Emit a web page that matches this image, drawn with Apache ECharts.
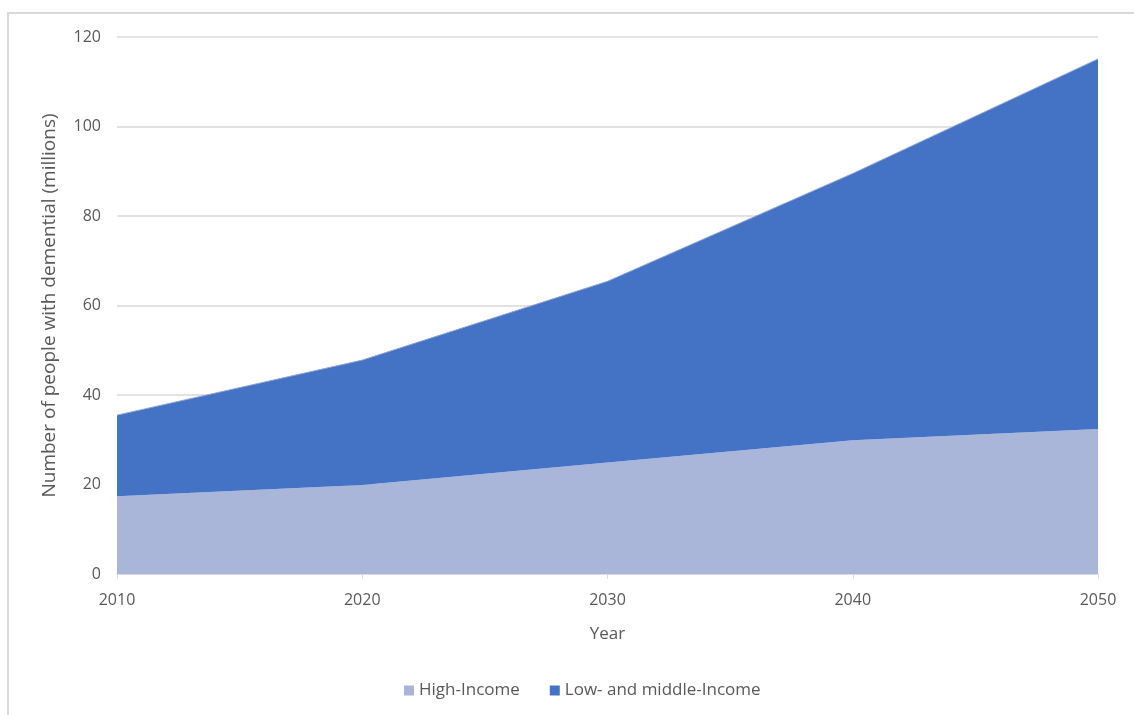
<!DOCTYPE html>
<html>
<head>
<meta charset="utf-8">
<script src="https://cdn.jsdelivr.net/npm/echarts@6/dist/echarts.min.js"></script>
<style>
	html, body { margin: 0; padding: 0; background: #fff; }
	#chart { position: absolute; left: 0; top: 0; width: 1134px; height: 715px; }
	#frame { position: absolute; left: 7px; top: 12px; width: 1140px; height: 720px;
		border-left: 2px solid #d9d9d9; border-top: 2px solid #d9d9d9; pointer-events: none; }
</style>
</head>
<body>
<div id="chart"></div>
<div id="frame"></div>
<script type="text/javascript">
	var years = ['2010', '2020', '2030', '2040', '2050'];
	var highIncome = [17.4, 19.9, 24.9, 29.9, 32.4];
	var lowMiddleIncome = [18.1, 27.9, 40.5, 59.6, 82.7];

	var fontFam = '"Open Sans", "Noto Sans", sans-serif';
	var chart = echarts.init(document.getElementById('chart'));
	var option = {
		animation: false,
		textStyle: { fontFamily: fontFam },
		grid: { left: 117, right: 36, top: 37, bottom: 141 },
		legend: {
			bottom: 11,
			left: 399,
			icon: 'rect',
			itemWidth: 10,
			itemHeight: 10,
			itemGap: 30,
			textStyle: { color: '#595959', fontSize: 17, fontFamily: fontFam },
			data: ['High-Income', 'Low- and middle-Income']
		},
		xAxis: {
			type: 'category',
			boundaryGap: false,
			data: years,
			name: 'Year',
			nameLocation: 'middle',
			nameGap: 52,
			nameTextStyle: { color: '#595959', fontSize: 17 },
			axisLine: { lineStyle: { color: '#d9d9d9', width: 1.5 } },
			axisTick: { show: true, length: 5, lineStyle: { color: '#d9d9d9' } },
			axisLabel: { color: '#595959', fontSize: 16, margin: 18 }
		},
		yAxis: {
			type: 'value',
			min: 0,
			max: 120,
			interval: 20,
			name: 'Number of people with demential (millions)',
			nameLocation: 'middle',
			nameGap: 58,
			nameTextStyle: { color: '#595959', fontSize: 19 },
			axisLine: { show: false },
			axisTick: { show: false },
			axisLabel: { color: '#595959', fontSize: 16, margin: 16 },
			splitLine: { lineStyle: { color: '#d9d9d9', width: 1.5 } }
		},
		series: [
			{
				name: 'High-Income',
				type: 'line',
				stack: 'total',
				symbol: 'none',
				data: highIncome,
				itemStyle: { color: '#a9b5d9' },
				lineStyle: { width: 0 },
				areaStyle: { color: '#a9b5d9', opacity: 1 }
			},
			{
				name: 'Low- and middle-Income',
				type: 'line',
				stack: 'total',
				symbol: 'none',
				data: lowMiddleIncome,
				itemStyle: { color: '#4472c4' },
				lineStyle: { width: 1, color: '#8fa5d3' },
				areaStyle: { color: '#4472c4', opacity: 1 }
			}
		]
	};
	chart.setOption(option);
	window.onresize = function() {
		chart.resize();
	};
</script>
</body>
</html>
